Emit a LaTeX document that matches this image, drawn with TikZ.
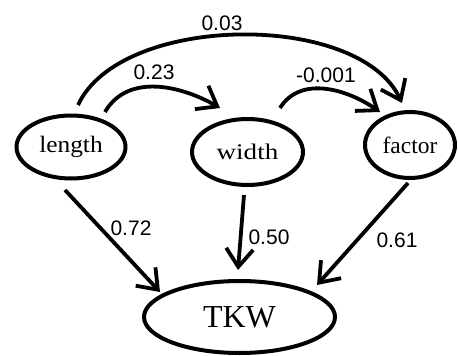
\documentclass[tikz,border=0pt]{standalone}
\usepackage{fontspec}
\setmainfont{Liberation Serif}
\newfontfamily\labfont{Liberation Sans}
\usetikzlibrary{shapes.geometric,arrows.meta}

\tikzset{
  var/.style={ellipse, draw, line width=4pt, inner sep=0pt,
    font=\fontsize{23.5}{25}\selectfont},
  coef/.style={font=\labfont\fontsize{21}{23}\selectfont, inner sep=0pt},
  path/.style={line width=3.8pt,
    -{Straight Barb[length=18pt,width=27pt,line width=3.8pt]}}
}

\begin{document}
\begin{tikzpicture}[x=1pt,y=-1pt]
  \useasboundingbox (0,0) rectangle (458,356);
  \fill[white] (0,0) rectangle (458,356);

  % variables
  \node[var, minimum width=109pt, minimum height=63pt] (length) at (71,147)
    {\scalebox{1.08}[1]{length}};
  \node[var, minimum width=111pt, minimum height=66pt] (width) at (247.5,152)
    {\scalebox{1.15}[0.95]{width}};
  \node[var, minimum width=90pt, minimum height=66pt] (factor) at (410,145)
    {factor};
  \node[var, minimum width=191pt, minimum height=72pt,
        font=\fontsize{32}{34}\selectfont] (TKW) at (239.5,317) {TKW};

  % paths between the predictors
  \draw[path] ([shift={(34,-35)}]length.center)
    to[out=60,in=150] ([shift={(-27.5,-44)}]width.center);
  \draw[path] ([shift={(32.5,-44)}]width.center)
    to[out=58,in=145] ([shift={(-30,-33)}]factor.center);
  \draw[path] ([shift={(7,-42)}]length.center)
    to[out=65,in=115,looseness=0.8] ([shift={(-8,-42)}]factor.center);

  % direct paths to TKW
  \draw[path] ([shift={(-6,43)}]length.center) -- ([shift={(-79.5,-25)}]TKW.center);
  \draw[path] ([shift={(-3.5,43)}]width.center) -- ([shift={(-1.5,-47)}]TKW.center);
  \draw[path] ([shift={(-2,38)}]factor.center) -- ([shift={(77.5,-32)}]TKW.center);

  % path coefficients
  \node[coef] (c03) at (222,23) {0.03};
  \node[coef] (c23) at (154,72) {0.23};
  \node[coef] (c001) at (326,75) {-0.001};
  \node[coef] (c72) at (131,228) {0.72};
  \node[coef] (c50) at (269,237) {0.50};
  \node[coef] (c61) at (397,240) {0.61};
\end{tikzpicture}
\end{document}
